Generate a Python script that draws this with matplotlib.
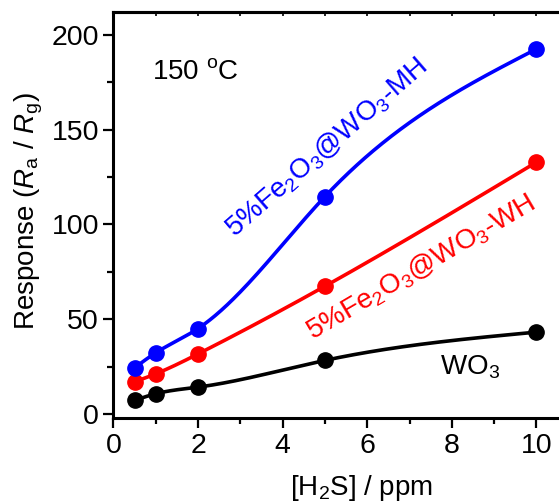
import numpy as np
import matplotlib
matplotlib.use("Agg")
import matplotlib.pyplot as plt
from matplotlib.ticker import MultipleLocator

plt.rcParams["font.family"] = ["Liberation Sans", "DejaVu Sans"]
plt.rcParams["mathtext.fontset"] = "custom"
plt.rcParams["mathtext.rm"] = "Liberation Sans"
plt.rcParams["mathtext.it"] = "Liberation Sans:italic"
plt.rcParams["mathtext.bf"] = "Liberation Sans:bold"

# H2S concentration (ppm) and sensor response Ra/Rg at 150 °C
conc = [0.5, 1, 2, 5, 10]
resp_mh = [24.4, 32.3, 45.1, 114.7, 192.5]   # 5%Fe2O3@WO3-MH
resp_wh = [17.0, 21.2, 31.7, 67.4, 132.8]    # 5%Fe2O3@WO3-WH
resp_wo3 = [7.2, 10.7, 14.2, 28.3, 43.2]     # WO3

series = [
    (resp_wo3, "black"),
    (resp_wh, "#ff0000"),
    (resp_mh, "#0000ff"),
]


def natural_cubic_spline(x, y, xs):
    x = np.asarray(x, float)
    y = np.asarray(y, float)
    n = len(x)
    h = np.diff(x)
    A = np.zeros((n, n))
    b = np.zeros(n)
    A[0, 0] = 1.0
    A[-1, -1] = 1.0
    for i in range(1, n - 1):
        A[i, i - 1] = h[i - 1]
        A[i, i] = 2 * (h[i - 1] + h[i])
        A[i, i + 1] = h[i]
        b[i] = 6 * ((y[i + 1] - y[i]) / h[i] - (y[i] - y[i - 1]) / h[i - 1])
    M = np.linalg.solve(A, b)
    idx = np.clip(np.searchsorted(x, xs) - 1, 0, n - 2)
    x0, x1 = x[idx], x[idx + 1]
    y0, y1 = y[idx], y[idx + 1]
    m0, m1 = M[idx], M[idx + 1]
    hh = x1 - x0
    t0 = x1 - xs
    t1 = xs - x0
    return (m0 * t0 ** 3 / (6 * hh) + m1 * t1 ** 3 / (6 * hh)
            + (y0 / hh - m0 * hh / 6) * t0 + (y1 / hh - m1 * hh / 6) * t1)


fig = plt.figure(figsize=(5.59, 5.04), dpi=100)
ax = fig.add_axes([0.2030, 0.1706, 0.8097, 0.8056])

xs = np.linspace(conc[0], conc[-1], 400)
for vals, col in series:
    ax.plot(xs, natural_cubic_spline(conc, vals, xs), color=col, lw=2.6,
            solid_capstyle="round", zorder=2)
    ax.plot(conc, vals, "o", color=col, ms=11, zorder=3)

ax.set_xlim(0, 10.7)
ax.set_ylim(-2.1, 212)

ax.xaxis.set_major_locator(MultipleLocator(2))
ax.xaxis.set_minor_locator(MultipleLocator(1))
ax.yaxis.set_major_locator(MultipleLocator(50))
ax.yaxis.set_minor_locator(MultipleLocator(25))

for s in ax.spines.values():
    s.set_linewidth(2.2)
ax.spines["right"].set_visible(False)

ax.tick_params(which="major", direction="out", length=7.5, width=1.6,
               labelsize=20.5, pad=3)
ax.tick_params(which="minor", direction="out", length=4.5, width=1.6)
ax.tick_params(top=False, right=False)

top = ax.secondary_xaxis("top")
top.xaxis.set_major_locator(MultipleLocator(1))
top.tick_params(direction="in", length=3, width=1.2, labeltop=False)
top.spines["top"].set_linewidth(2.2)

ax.set_xlabel("[H$_2$S] / ppm", fontsize=20)
ax.xaxis.set_label_coords(0.549, -0.135)
ax.set_ylabel("Response ($R_{\\rm a}$ / $R_{\\rm g}$)", fontsize=20)
ax.yaxis.set_label_coords(-0.152, 0.51)

ax.text(0.91, 180.5, "150 $^{\\rm o}$C", fontsize=20, ha="left", va="center")
ax.text(5.05, 140.4, "5%Fe$_2$O$_3$@WO$_3$-MH", fontsize=20, color="#0000ff",
        rotation=41, rotation_mode="anchor", ha="center", va="center")
ax.text(7.27, 77.0, "5%Fe$_2$O$_3$@WO$_3$-WH", fontsize=20, color="#ff0000",
        rotation=30.5, rotation_mode="anchor", ha="center", va="center")
ax.text(7.72, 21.1, "WO$_3$", fontsize=20, color="black",
        ha="left", va="baseline")

fig.savefig("out.png", dpi=100)
